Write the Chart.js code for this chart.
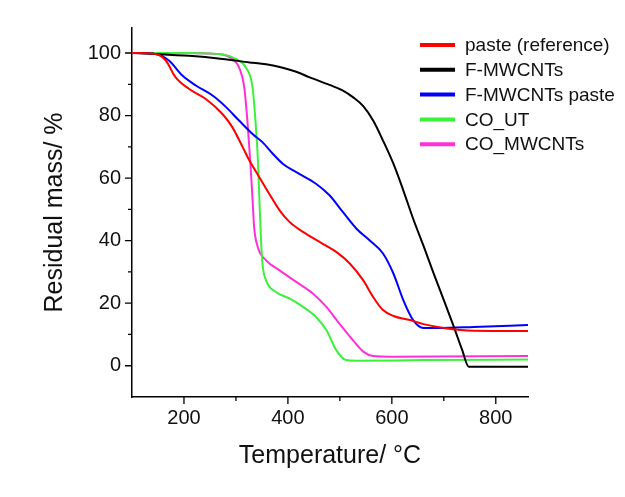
<!DOCTYPE html>
<html>
<head>
<meta charset="utf-8">
<script src="https://cdn.jsdelivr.net/npm/chart.js@4"></script>
<style>
html, body { margin: 0; padding: 0; background: #fff; }
</style>
</head>
<body>
<canvas id="chart" width="625" height="497"></canvas>
<script>
// TGA curves: temperature (°C) and residual mass (%)
const seriesNames = ['paste (reference)', 'F-MWCNTs', 'F-MWCNTs paste', 'CO_UT', 'CO_MWCNTs']
const seriesColors = ['#ff0000', '#000000', '#0000ff', '#3cf03c', '#ff30d8']

const pasteT = [100,145,165,184,210,242,274,293,313,326,345,364,384,403,429,467,493,519,545,564,583,603,635,661,700,757,862]
const pasteM = [100,99.7,97.6,92.2,88.5,85.3,80.5,76.3,69.9,65.6,60.3,55,49.7,46,42.8,39,36.4,32.7,27.3,22,17.8,15.9,14.6,13.3,12.1,11.2,11.1]

const fmwT = [100,145,210,274,326,358,390,416,442,480,506,525,545,564,583,603,622,641,661,680,700,719,735,748,862]
const fmwM = [100,99.7,99.1,98.1,97,96.4,95.3,94,92.2,89.8,88,85.9,83,78.4,72,64.6,56.1,47,38.3,29.7,21,12.6,5.2,-0.3,-0.3]

const fmwPasteT = [100,145,171,197,223,255,281,306,332,351,371,390,416,454,480,506,532,557,583,603,622,641,661,693,757,862]
const fmwPasteM = [100,99.7,97.6,92.8,89.6,86.4,82.7,78.4,74.1,71.5,67.8,64.6,61.9,58.2,54.5,49.1,43.8,40.1,35.9,29.5,21,14.6,12.1,12.1,12.4,13]

const coUtT = [100,210,274,300,319,332,338,342,345,348,351,358,377,403,429,454,474,493,512,532,661,862]
const coUtM = [100,100,99.5,98.1,95.4,89,77.3,66.7,53.9,41.2,32.7,27.3,23.6,21.5,18.8,15.6,11.4,5,1.8,1.6,1.8,2]

const coMwT = [100,210,274,293,306,316,322,327,331,335,342,358,384,416,448,474,499,525,545,564,596,862]
const coMwM = [100,100,99.5,98.1,95.4,89,78.4,66.7,56.1,44.4,38,33.7,30.5,26.8,23.1,18.8,13.5,8.2,4.5,3.1,2.9,3.1]

const temps = [pasteT, fmwT, fmwPasteT, coUtT, coMwT]
const masses = [pasteM, fmwM, fmwPasteM, coUtM, coMwM]

// axis ticks
const xMajor = [200, 400, 600, 800]
const xMinor = [300, 500, 700]
const yMajor = [0, 20, 40, 60, 80, 100]
const yMinor = [10, 30, 50, 70, 90]

const FONT = 'Arial, "Liberation Sans", sans-serif'

const toPoints = (xs, ys) => xs.map((x, i) => ({ x: x, y: ys[i] }))

//ticks + legend drawn by hand
const extras = {
    id: 'extras',
    afterDraw(chart) {
        const ctx = chart.ctx
        const xs = chart.scales.x
        const ys = chart.scales.y
        const area = chart.chartArea
        ctx.save()
        ctx.strokeStyle = '#000'
        ctx.lineWidth = 1.3
        ctx.beginPath()
        xMajor.forEach(v => { const p = xs.getPixelForValue(v); ctx.moveTo(p, area.bottom); ctx.lineTo(p, area.bottom + 7) })
        xMinor.forEach(v => { const p = xs.getPixelForValue(v); ctx.moveTo(p, area.bottom); ctx.lineTo(p, area.bottom + 4) })
        yMajor.forEach(v => { const p = ys.getPixelForValue(v); ctx.moveTo(area.left, p); ctx.lineTo(area.left - 7, p) })
        yMinor.forEach(v => { const p = ys.getPixelForValue(v); ctx.moveTo(area.left, p); ctx.lineTo(area.left - 4, p) })
        ctx.stroke()

        // legend
        const lx = 420, ly = 45, gap = 24.8
        ctx.font = '19px ' + FONT
        ctx.textBaseline = 'middle'
        chart.data.datasets.forEach((ds, i) => {
            const y = ly + i * gap
            ctx.strokeStyle = ds.borderColor
            ctx.lineWidth = 4
            ctx.beginPath()
            ctx.moveTo(lx, y)
            ctx.lineTo(lx + 35, y)
            ctx.stroke()
            ctx.fillStyle = '#111'
            ctx.fillText(ds.label, lx + 45, y + 1)
        })
        ctx.restore()
    }
}

let ctx = document.getElementById('chart')
let chart = new Chart(ctx, {
    type: 'line',
    data: {
        datasets: seriesNames.map((name, i) => ({
            label: name,
            data: toPoints(temps[i], masses[i]),
            borderColor: seriesColors[i],
            borderWidth: 2,
            pointRadius: 0,
            fill: false,
            cubicInterpolationMode: 'monotone'
        }))
    },
    options: {
        responsive: false,
        animation: false,
        layout: { padding: { left: 0, top: 28, right: 97, bottom: 0 } },
        plugins: {
            legend: { display: false },
            tooltip: { enabled: false }
        },
        scales: {
            x: {
                type: 'linear',
                min: 100,
                max: 862,
                afterFit: (s) => { s.height = 100 },
                grid: { display: true, drawOnChartArea: false, drawTicks: false },
                border: { display: true, color: '#000', width: 1.5 },
                ticks: {
                    stepSize: 100,
                    includeBounds: false,
                    autoSkip: false,
                    maxRotation: 0,
                    padding: 9,
                    color: '#111',
                    font: { size: 20, family: FONT },
                    callback: (v) => xMajor.includes(v) ? v : ''
                },
                title: {
                    display: true,
                    text: 'Temperature/ °C',
                    color: '#111',
                    font: { size: 25, family: FONT },
                    padding: { top: 0, bottom: 26 }
                }
            },
            y: {
                min: -10,
                max: 108,
                afterFit: (s) => { s.width = 132 },
                grid: { display: true, drawOnChartArea: false, drawTicks: false },
                border: { display: true, color: '#000', width: 1.5 },
                ticks: {
                    stepSize: 10,
                    includeBounds: false,
                    autoSkip: false,
                    padding: 11,
                    color: '#111',
                    font: { size: 20, family: FONT },
                    callback: (v) => yMajor.includes(v) ? v : ''
                },
                title: {
                    display: true,
                    text: 'Residual mass/ %',
                    color: '#111',
                    font: { size: 25, family: FONT },
                    padding: { top: 40, bottom: 0 }
                }
            }
        }
    },
    plugins: [extras]
});
</script>
</body>
</html>
